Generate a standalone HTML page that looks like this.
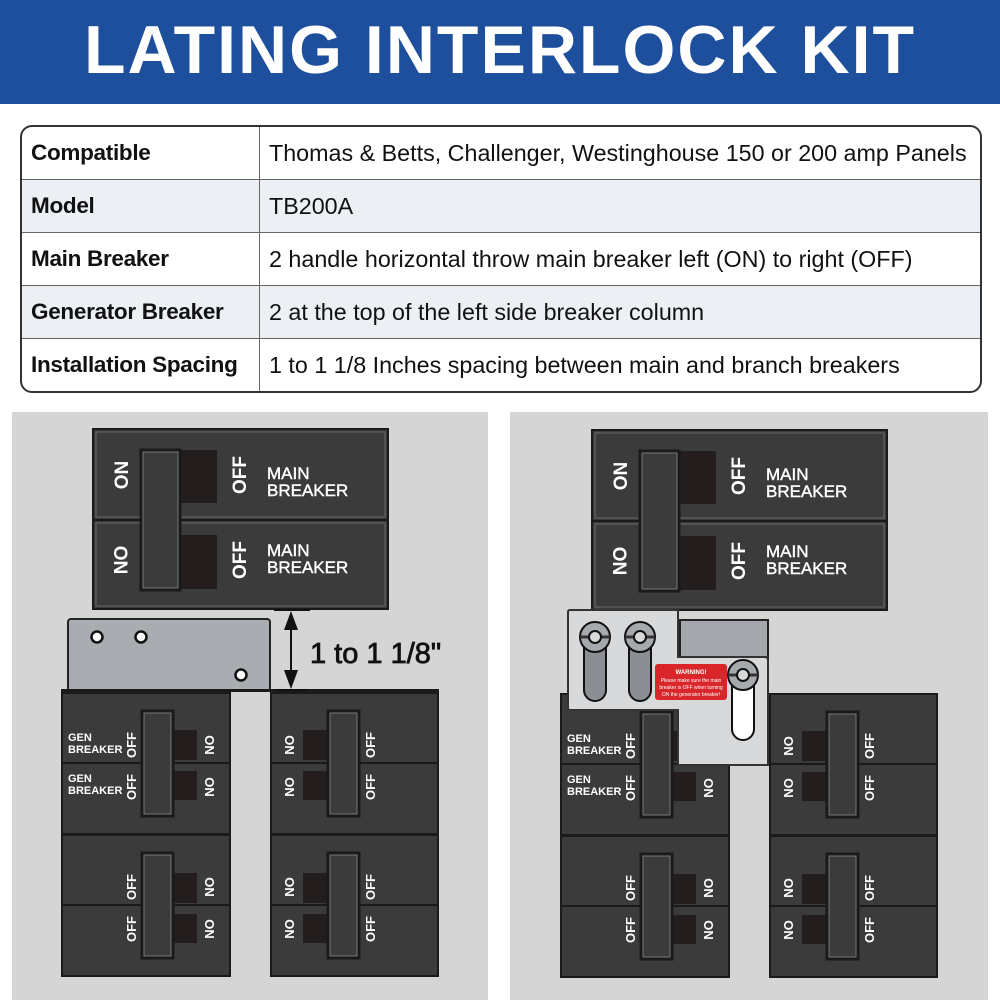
<!DOCTYPE html>
<html><head><meta charset="utf-8"><style>
body{margin:0;width:1000px;height:1000px;background:#fff;font-family:"Liberation Sans",sans-serif;overflow:hidden;position:relative}
.banner{position:absolute;left:0;top:0;width:1000px;height:104px;background:#1d4f9c;color:#fff;font-weight:bold;font-size:68px;text-align:center;line-height:100px;letter-spacing:2px}
table{position:absolute;left:20px;top:125px;width:962px;height:266px;border-collapse:separate;border-spacing:0;border:2px solid #333;border-radius:12px;overflow:hidden;table-layout:fixed}
td{border-bottom:1px solid #666;font-size:23.3px;color:#111;padding:0 0 0 9px;height:52px;white-space:nowrap;overflow:visible}
tr:last-child td{border-bottom:none}
td:first-child{font-weight:bold;width:228px;border-right:1px solid #666;font-size:22.5px;letter-spacing:-0.3px}
tr:nth-child(even) td{background:#eceff3}
svg{position:absolute;left:0;top:0}
</style></head><body>
<div class="banner">LATING INTERLOCK KIT</div>
<table>
<tr><td>Compatible</td><td>Thomas &amp; Betts, Challenger, Westinghouse 150 or 200 amp Panels</td></tr>
<tr><td>Model</td><td>TB200A</td></tr>
<tr><td>Main Breaker</td><td>2 handle horizontal throw main breaker left (ON) to right (OFF)</td></tr>
<tr><td>Generator Breaker</td><td>2 at the top of the left side breaker column</td></tr>
<tr><td>Installation Spacing</td><td>1 to 1 1/8 Inches spacing between main and branch breakers</td></tr>
</table>
<svg width="1000" height="1000" viewBox="0 0 1000 1000" font-family="Liberation Sans, sans-serif" font-weight="bold">
<defs>
<g id="panel">
 <rect x="93" y="429" width="295" height="91" fill="#3b3b3b" stroke="#1a1a1a" stroke-width="2"/>
 <rect x="93" y="520" width="295" height="89" fill="#3b3b3b" stroke="#1a1a1a" stroke-width="2"/>
 <rect x="96" y="432" width="289" height="85" fill="none" stroke="#6a6a6a" stroke-width="1"/>
 <rect x="96" y="523" width="289" height="83" fill="none" stroke="#6a6a6a" stroke-width="1"/>
 <rect x="180" y="450" width="37" height="53" fill="#231d1d"/>
 <rect x="180" y="535" width="37" height="54" fill="#231d1d"/>
 <rect x="141" y="450" width="39" height="140" fill="#3b3b3b" stroke="#1a1a1a" stroke-width="3"/>
 <rect x="143" y="452" width="35" height="136" fill="none" stroke="#777" stroke-width="1"/>
 <g fill="#fff" font-size="19">
  <text transform="translate(128,475) rotate(-90)" text-anchor="middle">ON</text>
  <text transform="translate(114,560) rotate(90)" text-anchor="middle">ON</text>
  <text transform="translate(246,475) rotate(-90)" text-anchor="middle">OFF</text>
  <text transform="translate(246,560) rotate(-90)" text-anchor="middle">OFF</text>
  <text x="267" y="479" font-size="17" font-weight="normal" stroke="#fff" stroke-width="0.4">MAIN</text>
  <text x="267" y="496" font-size="17" font-weight="normal" stroke="#fff" stroke-width="0.4">BREAKER</text>
  <text x="267" y="556" font-size="17" font-weight="normal" stroke="#fff" stroke-width="0.4">MAIN</text>
  <text x="267" y="573" font-size="17" font-weight="normal" stroke="#fff" stroke-width="0.4">BREAKER</text>
 </g>
 <g>
  <rect x="62" y="693" width="168" height="70" fill="#3b3b3b" stroke="#1a1a1a" stroke-width="2"/>
  <rect x="62" y="763" width="168" height="71" fill="#3b3b3b" stroke="#1a1a1a" stroke-width="2"/>
  <rect x="172" y="730" width="25" height="30" fill="#231d1d"/>
  <rect x="172" y="771" width="25" height="29" fill="#231d1d"/>
  <rect x="142" y="711" width="31" height="105" fill="#3b3b3b" stroke="#1a1a1a" stroke-width="3"/>
  <rect x="144" y="713" width="27" height="101" fill="none" stroke="#777" stroke-width="1"/>
  <g fill="#fff" font-size="13">
   <text transform="translate(136,745) rotate(-90)" text-anchor="middle">OFF</text>
   <text transform="translate(136,787) rotate(-90)" text-anchor="middle">OFF</text>
   <text transform="translate(205,745) rotate(90)" text-anchor="middle">ON</text>
   <text transform="translate(205,787) rotate(90)" text-anchor="middle">ON</text>
  </g>
 </g>
 <g transform="translate(0,142)">
  <rect x="62" y="693" width="168" height="70" fill="#3b3b3b" stroke="#1a1a1a" stroke-width="2"/>
  <rect x="62" y="763" width="168" height="71" fill="#3b3b3b" stroke="#1a1a1a" stroke-width="2"/>
  <rect x="172" y="731" width="25" height="30" fill="#231d1d"/>
  <rect x="172" y="772" width="25" height="29" fill="#231d1d"/>
  <rect x="142" y="711" width="31" height="105" fill="#3b3b3b" stroke="#1a1a1a" stroke-width="3"/>
  <rect x="144" y="713" width="27" height="101" fill="none" stroke="#777" stroke-width="1"/>
  <g fill="#fff" font-size="13">
   <text transform="translate(136,745) rotate(-90)" text-anchor="middle">OFF</text>
   <text transform="translate(136,787) rotate(-90)" text-anchor="middle">OFF</text>
   <text transform="translate(205,745) rotate(90)" text-anchor="middle">ON</text>
   <text transform="translate(205,787) rotate(90)" text-anchor="middle">ON</text>
  </g>
 </g>
 <g>
  <rect x="271" y="693" width="167" height="70" fill="#3b3b3b" stroke="#1a1a1a" stroke-width="2"/>
  <rect x="271" y="763" width="167" height="71" fill="#3b3b3b" stroke="#1a1a1a" stroke-width="2"/>
  <rect x="303" y="730" width="26" height="30" fill="#231d1d"/>
  <rect x="303" y="771" width="26" height="29" fill="#231d1d"/>
  <rect x="328" y="711" width="31" height="105" fill="#3b3b3b" stroke="#1a1a1a" stroke-width="3"/>
  <rect x="330" y="713" width="27" height="101" fill="none" stroke="#777" stroke-width="1"/>
  <g fill="#fff" font-size="13">
   <text transform="translate(285,745) rotate(90)" text-anchor="middle">ON</text>
   <text transform="translate(285,787) rotate(90)" text-anchor="middle">ON</text>
   <text transform="translate(375,745) rotate(-90)" text-anchor="middle">OFF</text>
   <text transform="translate(375,787) rotate(-90)" text-anchor="middle">OFF</text>
  </g>
 </g>
 <g transform="translate(0,142)">
  <rect x="271" y="693" width="167" height="70" fill="#3b3b3b" stroke="#1a1a1a" stroke-width="2"/>
  <rect x="271" y="763" width="167" height="71" fill="#3b3b3b" stroke="#1a1a1a" stroke-width="2"/>
  <rect x="303" y="731" width="26" height="30" fill="#231d1d"/>
  <rect x="303" y="772" width="26" height="29" fill="#231d1d"/>
  <rect x="328" y="711" width="31" height="105" fill="#3b3b3b" stroke="#1a1a1a" stroke-width="3"/>
  <rect x="330" y="713" width="27" height="101" fill="none" stroke="#777" stroke-width="1"/>
  <g fill="#fff" font-size="13">
   <text transform="translate(285,745) rotate(90)" text-anchor="middle">ON</text>
   <text transform="translate(285,787) rotate(90)" text-anchor="middle">ON</text>
   <text transform="translate(375,745) rotate(-90)" text-anchor="middle">OFF</text>
   <text transform="translate(375,787) rotate(-90)" text-anchor="middle">OFF</text>
  </g>
 </g>
 <g fill="#fff" font-size="11">
  <text x="68" y="741">GEN</text><text x="68" y="753">BREAKER</text>
  <text x="68" y="782">GEN</text><text x="68" y="794">BREAKER</text>
 </g>
</g>
</defs>
<rect x="12" y="412" width="476" height="588" fill="#d5d5d5"/>
<rect x="510" y="412" width="478" height="588" fill="#d5d5d5"/>
<use href="#panel"/>
<use href="#panel" transform="translate(499,1)"/>
<rect x="68" y="619" width="202" height="72" rx="3" fill="#a9adb2" stroke="#222" stroke-width="2"/>
<g fill="#fff" stroke="#111" stroke-width="2.5">
 <circle cx="97" cy="637" r="5.5"/><circle cx="141" cy="637" r="5.5"/><circle cx="241" cy="675" r="5.5"/>
</g>
<rect x="61" y="689" width="378" height="5" fill="#1a1a1a"/>
<rect x="231" y="692" width="39" height="2" fill="#d5d5d5"/>
<g stroke="#111" stroke-width="2">
 <line x1="274" y1="610" x2="310" y2="610"/><line x1="274" y1="690" x2="310" y2="690"/>
 <line x1="291" y1="620" x2="291" y2="680"/>
</g>
<polygon points="291,611 284,630 298,630" fill="#111"/>
<polygon points="291,689 284,670 298,670" fill="#111"/>
<text x="310" y="663" font-size="29" font-weight="normal" stroke="#111" stroke-width="0.8" fill="#111">1 to 1 1/8"</text>
<rect x="680" y="620" width="88" height="40" fill="#a5a9ae" stroke="#222" stroke-width="2"/>
<path d="M568,612 Q568,610 570,610 L678,610 L678,657 L766,657 L768,659 L768,765 L678,765 L678,710 L570,710 Q568,710 568,708 Z" fill="#d8d9db" stroke="#333" stroke-width="2"/>
<g>
 <rect x="584" y="637" width="22" height="64" rx="11" fill="#8b8e92" stroke="#111" stroke-width="2"/>
 <circle cx="595" cy="637" r="15" fill="#a6a9ad" stroke="#111" stroke-width="2"/>
 <line x1="580" y1="637" x2="610" y2="637" stroke="#333" stroke-width="3"/>
 <circle cx="595" cy="637" r="6" fill="#d8d9db" stroke="#111" stroke-width="2"/>
 <rect x="629" y="637" width="22" height="64" rx="11" fill="#8b8e92" stroke="#111" stroke-width="2"/>
 <circle cx="640" cy="637" r="15" fill="#a6a9ad" stroke="#111" stroke-width="2"/>
 <line x1="625" y1="637" x2="655" y2="637" stroke="#333" stroke-width="3"/>
 <circle cx="640" cy="637" r="6" fill="#d8d9db" stroke="#111" stroke-width="2"/>
 <rect x="732" y="675" width="22" height="65" rx="11" fill="#fff" stroke="#111" stroke-width="2"/>
 <circle cx="743" cy="675" r="15" fill="#a6a9ad" stroke="#111" stroke-width="2"/>
 <line x1="728" y1="675" x2="758" y2="675" stroke="#333" stroke-width="3"/>
 <circle cx="743" cy="675" r="6" fill="#d8d9db" stroke="#111" stroke-width="2"/>
</g>
<rect x="655" y="664" width="72" height="36" rx="3" fill="#d9262b"/>
<g fill="#fff" font-size="5" font-weight="normal" text-anchor="middle">
 <text x="691" y="674" font-weight="bold" font-size="6">WARNING!</text>
 <text x="691" y="682">Please make sure the main</text>
 <text x="691" y="689">breaker is OFF when turning</text>
 <text x="691" y="696">ON the generator breaker!</text>
</g>
</svg>
</body></html>
